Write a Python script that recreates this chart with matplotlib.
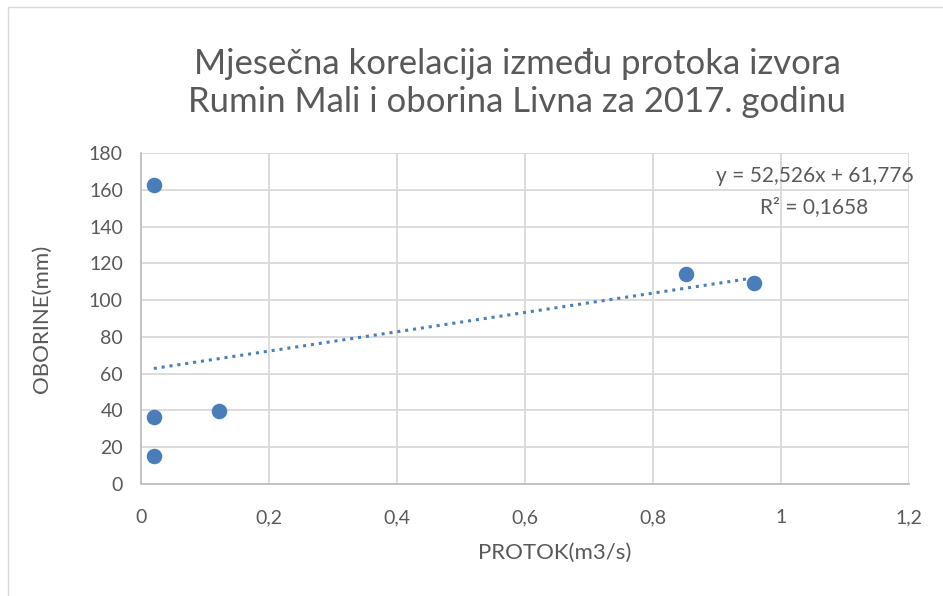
import matplotlib
matplotlib.use("Agg")
import matplotlib.pyplot as plt
from matplotlib.patches import Rectangle
import numpy as np

# Monthly discharge of the spring (m3/s) and precipitation (mm)
protok = [0.02, 0.02, 0.02, 0.122, 0.852, 0.958]
oborine = [162.6, 36.4, 15.2, 39.7, 114.2, 109.3]

# Linear trendline coefficients and fit quality
slope = 52.526
intercept = 61.776
r_squared = 0.1658

x_ticks = [0, 0.2, 0.4, 0.6, 0.8, 1.0, 1.2]
x_tick_labels = ["0", "0,2", "0,4", "0,6", "0,8", "1", "1,2"]
y_ticks = [0, 20, 40, 60, 80, 100, 120, 140, 160, 180]

title = "Mjesečna korelacija između protoka izvora\nRumin Mali i oborina Livna za 2017. godinu"

plt.rcParams["font.family"] = ["Lato", "DejaVu Sans"]
text_color = "#595959"
grid_color = "#d9d9d9"
point_color = "#4a7ebb"

fig = plt.figure(figsize=(9.43, 5.96), dpi=100)
fig.patch.set_facecolor("white")

# Chart area border
W, H = 943, 596
fig.patches.append(Rectangle((8 / W, -0.05), 1.0, 1 - 7 / H + 0.05,
                             transform=fig.transFigure, fill=False,
                             edgecolor="#d9d9d9", linewidth=1.0))

ax = fig.add_axes([141 / W, 1 - 484 / H, 768 / W, 331 / H])
ax.set_xlim(0, 1.2)
ax.set_ylim(0, 180)
ax.set_xticks(x_ticks)
ax.set_xticklabels(x_tick_labels)
ax.set_yticks(y_ticks)
ax.grid(True, color=grid_color, linewidth=1.3)
ax.set_axisbelow(True)
for side in ["top", "right"]:
    ax.spines[side].set_visible(False)
for side in ["left", "bottom"]:
    ax.spines[side].set_color("#bfbfbf")
    ax.spines[side].set_linewidth(1.3)
ax.tick_params(length=0, labelsize=14, colors=text_color)
ax.tick_params(axis="x", pad=18)
ax.tick_params(axis="y", pad=13)

ax.scatter(protok, oborine, s=125, color=point_color, zorder=3, linewidths=0)

# Trendline over the data range
xs = np.array([min(protok), max(protok)])
ax.plot(xs, slope * xs + intercept, linestyle=(0, (1, 1.6)), color=point_color,
        linewidth=2.2, zorder=2)

eq = f"y = {slope:.3f}x + {intercept:.3f}".replace(".", ",")
r2 = f"R² = {r_squared:.4f}".replace(".", ",")
fig.text(914 / W, 1 - 176 / H, eq, ha="right", va="center", fontsize=15, color=text_color)
fig.text(868 / W, 1 - 207 / H, r2, ha="right", va="center", fontsize=15, color=text_color)

fig.text(555 / W, 1 - 553 / H, "PROTOK(m3/s)", ha="center", va="center",
         fontsize=16, color=text_color)
fig.text(42 / W, 1 - 319 / H, "OBORINE(mm)", ha="center", va="center",
         rotation=90, fontsize=16, color=text_color)

fig.text(517 / W, 1 - 83 / H, title, ha="center", va="center", fontsize=25,
         color=text_color, linespacing=1.2)

fig.savefig("out.png", dpi=100)
